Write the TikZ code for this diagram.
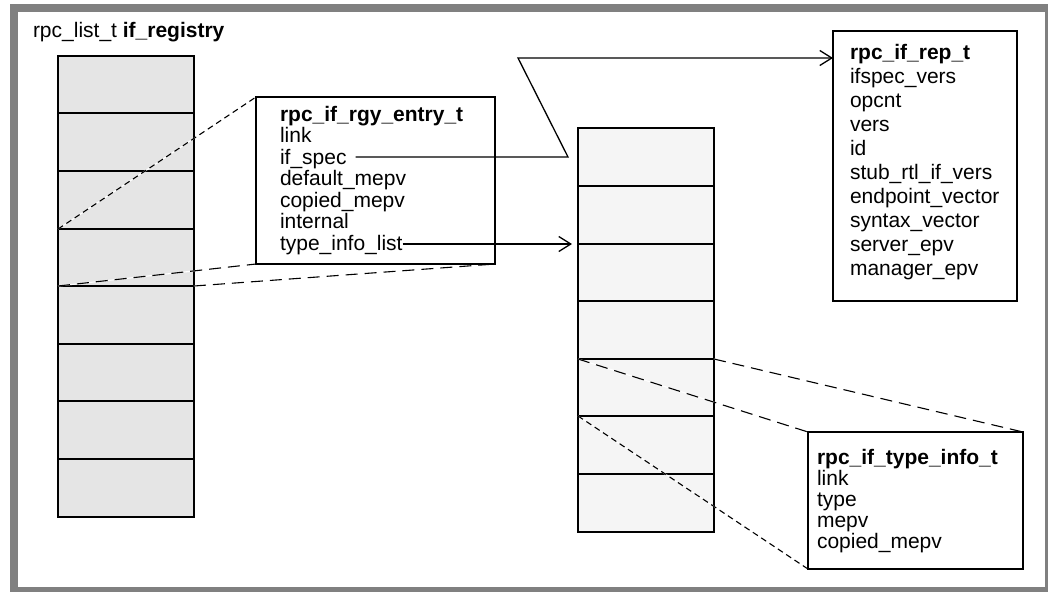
\documentclass[tikz,border=0pt]{standalone}
\usepackage{fontspec}
\setmainfont{Liberation Sans}
\usetikzlibrary{arrows.meta}
\newcommand\dfont{\fontsize{21}{21}\selectfont}
\definecolor{framegray}{HTML}{808080}
\definecolor{lfill}{HTML}{E5E5E5}
\definecolor{mfill}{HTML}{F5F5F5}
\tikzset{
  lbl/.style={anchor=base west, inner sep=0pt, outer sep=0pt, font=\dfont},
  hd/.style={lbl, font=\dfont\bfseries},
  lcell/.style={draw, line width=2pt, fill=lfill, minimum width=136pt, inner sep=0pt, outer sep=0pt},
  mcell/.style={draw, line width=2pt, fill=mfill, minimum width=136pt, inner sep=0pt, outer sep=0pt},
  box/.style={draw, inner sep=0pt, outer sep=0pt, fill=white},
  zoomline/.style={line width=1.1pt, preaction={draw=white, solid, line width=1.1pt}},
  longdash/.style={zoomline, dash pattern=on 12pt off 7pt},
  shortdash/.style={zoomline, dash pattern=on 6pt off 4pt},
  ptr/.style={line width=1.3pt, -{Straight Barb[length=12pt,width=15pt]}}
}
\begin{document}
\begin{tikzpicture}[x=1pt,y=-1pt]
\useasboundingbox (0,0) rectangle (1048,592);
% frame
\fill[framegray] (10,4) rectangle (1048,592);
\fill[white] (18,12) rectangle (1045,587);

% title
\node[lbl] (title) at (33,37) {rpc\_list\_t \textbf{if\_registry}};

% left stack
\foreach \a/\b [count=\i] in {56/113,113/171,171/229,229/286,286/344,344/401,401/459,459/517}
  \node[lcell, minimum height={\b-\a}] (L\i) at (126,{(\a+\b)/2}) {};

% middle stack
\foreach \a/\b [count=\i] in {128/186,186/244,244/301,301/359,359/416,416/474,474/532}
  \node[mcell, minimum height={\b-\a}] (M\i) at (646,{(\a+\b)/2}) {};

% zoom dashed lines (left)
\draw[shortdash] (L3.south west) -- (256,97) coordinate (entrynw);
\draw[longdash] (L4.south west) -- (256,264) coordinate (entrysw);
\draw[longdash] (L4.south east) -- (495,264) coordinate (entryse);

% entry box
\node[box, line width=1.2pt, minimum width=239pt, minimum height=167pt] (entry) at (375.5,180.5) {};
\node[hd] (eh) at (280,121) {rpc\_if\_rgy\_entry\_t};
\foreach \t [count=\i] in {link, if\_spec, default\_mepv, copied\_mepv, internal, type\_info\_list}
  \node[lbl] (e\i) at (280,{121+21.5*\i}) {\t};

% rep box
\node[box, line width=1.8pt, minimum width=184pt, minimum height=270pt] (rep) at (925,166) {};
\node[hd] (rh) at (850,59) {rpc\_if\_rep\_t};
\foreach \t [count=\i] in {ifspec\_vers, opcnt, vers, id, stub\_rtl\_if\_vers, endpoint\_vector, syntax\_vector, server\_epv, manager\_epv}
  \node[lbl] (r\i) at (850,{59+24*\i}) {\t};

% zoom dashed lines (middle)
\draw[longdash] (M5.north west) -- (808,432);
\draw[longdash] (M5.north east) -- (1023,432);
\draw[shortdash] (M5.south west) -- (808,569);

% type info box
\node[box, line width=1.8pt, minimum width=215pt, minimum height=137pt] (tinfo) at (915.5,500.5) {};
\node[hd] (th) at (817,464) {rpc\_if\_type\_info\_t};
\foreach \t [count=\i] in {link, type, mepv, copied\_mepv}
  \node[lbl] (t\i) at (817,{464+21*\i}) {\t};

% if_spec pointer
\coordinate (ifs) at ([xshift=9pt,yshift=7pt]e2.base east);
\coordinate (k1) at (568,0);
\coordinate (k2) at (518,58);
\draw[ptr] (ifs) -- (ifs -| k1) -- (k2) -- (k2 -| rep.west);

% type_info_list pointer
\coordinate (til) at (e6.base east |- M2.south west);
\draw[ptr, shorten >=6pt] (til) -- (M2.south west);
\end{tikzpicture}
\end{document}
